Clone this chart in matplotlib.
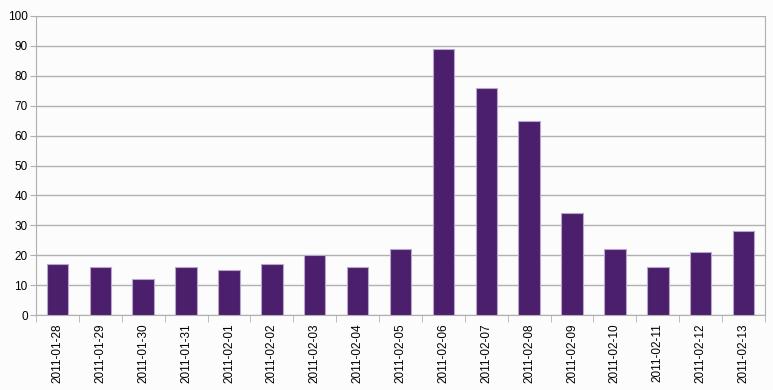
import matplotlib
matplotlib.use("Agg")
import matplotlib.pyplot as plt
import numpy as np

dates = ["2011-01-28", "2011-01-29", "2011-01-30", "2011-01-31", "2011-02-01",
         "2011-02-02", "2011-02-03", "2011-02-04", "2011-02-05", "2011-02-06",
         "2011-02-07", "2011-02-08", "2011-02-09", "2011-02-10", "2011-02-11",
         "2011-02-12", "2011-02-13"]
values = [17, 16, 12, 16, 15, 17, 20, 16, 22, 89, 76, 65, 34, 22, 16, 21, 28]
yticks = [0, 10, 20, 30, 40, 50, 60, 70, 80, 90, 100]

plt.rcParams['font.family'] = ['Liberation Sans', 'DejaVu Sans']

fig = plt.figure(figsize=(7.73, 3.90), dpi=100)
fig.patch.set_facecolor('#fcfcfc')
ax = fig.add_axes([36/773, 1 - 315/390, (765-36)/773, (315-16)/390])
ax.set_facecolor('#fcfcfc')

x = np.arange(len(dates))
ax.bar(x, values, width=0.5, color='#4b1f6b', edgecolor='#b9a6cc', linewidth=0.8, zorder=3)

ax.set_xlim(-0.5, len(dates) - 0.5)
ax.set_ylim(0, 100)
ax.set_yticks(yticks)
ax.set_yticklabels([str(v) for v in yticks], fontsize=8.5)
ax.yaxis.grid(True, color='#b0b0b0', linewidth=1.0, zorder=0)
ax.tick_params(axis='y', length=4, color='#b0b0b0', pad=2)

ax.set_xticks(x)
ax.set_xticklabels(dates, rotation=90, fontsize=8.5)
ax.tick_params(axis='x', length=0, pad=6)
ax.set_xticks(np.arange(len(dates) + 1) - 0.5, minor=True)
ax.tick_params(axis='x', which='minor', length=5, color='#b0b0b0')

for s in ['top']:
    ax.spines[s].set_visible(False)
for s in ['left', 'bottom', 'right']:
    ax.spines[s].set_color('#b0b0b0')

fig.savefig('out.png', dpi=100, facecolor=fig.get_facecolor())
